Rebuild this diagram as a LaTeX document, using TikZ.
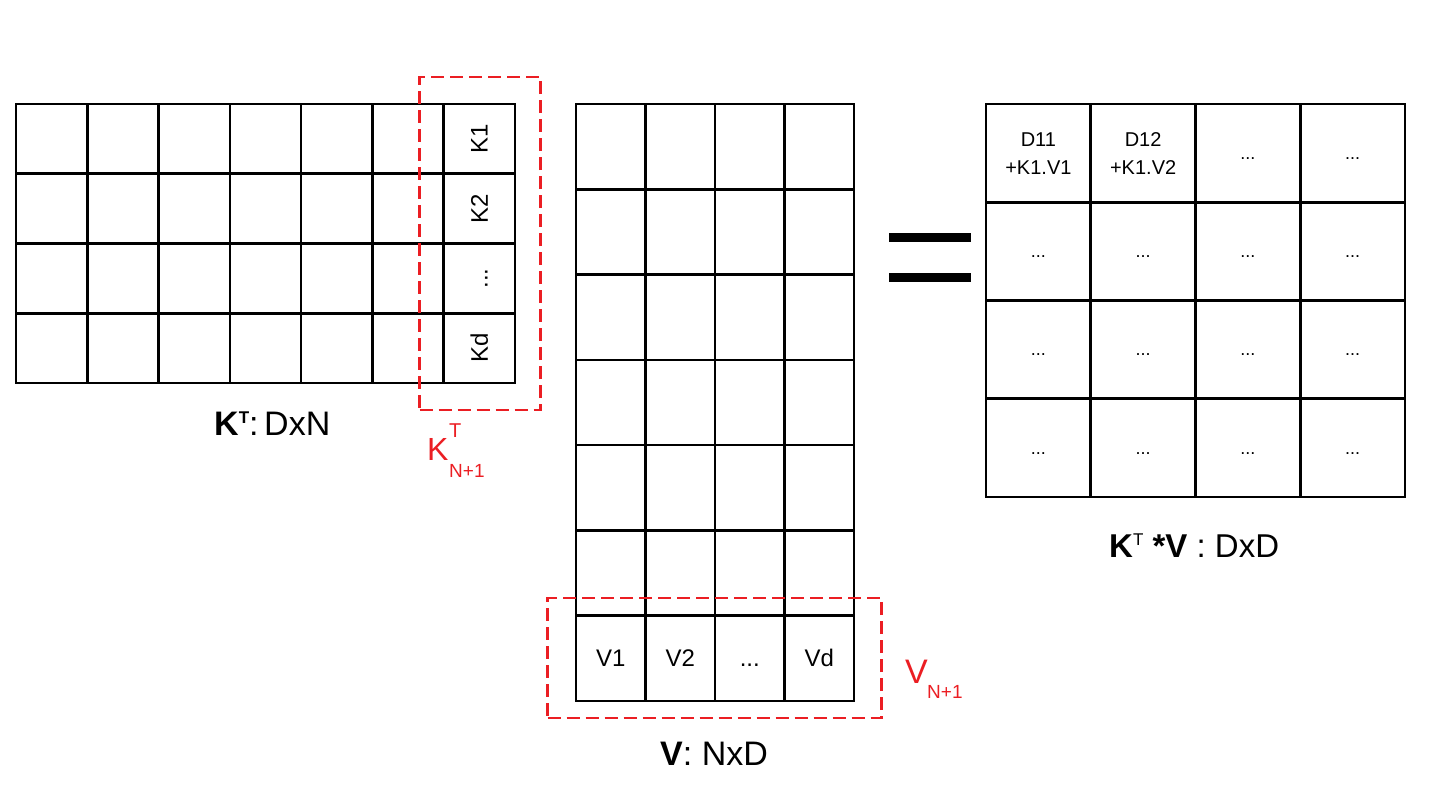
\documentclass[tikz,border=0pt]{standalone}
\usepackage{fontspec}
\setmainfont{Liberation Sans}
\definecolor{redline}{RGB}{235,30,35}
\newcommand{\fs}[1]{\fontsize{#1}{#1}\selectfont}
\begin{document}
\begin{tikzpicture}[x=1pt,y=-1pt,
  cell/.style={draw=black, line width=2.6pt, inner sep=0pt, outer sep=0pt},
  redbox/.style={draw=redline, line width=2.4pt, dash pattern=on 13pt off 6pt, inner sep=0pt},
  lbl/.style={inner sep=0pt, anchor=base west},
  redlbl/.style={inner sep=0pt, anchor=base west, text=redline}]
\useasboundingbox (0,0) rectangle (1456,798);
% ---------- K^T matrix (4 rows x 7 cols) ----------
\foreach \r in {0,...,3}{
  \foreach \c in {0,...,6}{
    \node[cell, minimum width=71.29pt, minimum height=69.75pt]
      (k-\r-\c) at ({16+71.29*(\c+0.5)},{104+69.75*(\r+0.5)}) {};
  }
}
\node[rotate=90, font=\fs{24}] (k1) at (k-0-6) {K1};
\node[rotate=90, font=\fs{24}] (k2) at (k-1-6) {K2};
\node[rotate=90, font=\fs{24}] (kdots) at (k-2-6) {\vphantom{K}...};
\node[rotate=90, font=\fs{24}] (kd) at (k-3-6) {Kd};
\node[redbox, minimum width=121pt, minimum height=333pt] (kbox) at (480,243.5) {};
% ---------- V matrix (7 rows x 4 cols) ----------
\foreach \r in {0,...,6}{
  \foreach \c in {0,...,3}{
    \node[cell, minimum width=69.5pt, minimum height=85.29pt]
      (v-\r-\c) at ({576+69.5*(\c+0.5)},{104+85.29*(\r+0.5)}) {};
  }
}
\node[font=\fs{24}] (v1) at (v-6-0) {V1};
\node[font=\fs{24}] (v2) at (v-6-1) {V2};
\node[font=\fs{24}] (vdots) at (v-6-2) {\vphantom{V}...};
\node[font=\fs{24}] (vd) at (v-6-3) {Vd};
\node[redbox, minimum width=334pt, minimum height=120pt] (vbox) at (714.5,658) {};
% ---------- equals ----------
\node[fill=black, minimum width=82pt, minimum height=9pt, inner sep=0pt] (eqa) at (930,237.5) {};
\node[fill=black, minimum width=82pt, minimum height=9pt, inner sep=0pt] (eqb) at (930,277.5) {};
% ---------- result matrix (4 x 4) ----------
\foreach \r in {0,...,3}{
  \foreach \c in {0,...,3}{
    \node[cell, minimum width=104.75pt, minimum height=98.25pt]
      (d-\r-\c) at ({986+104.75*(\c+0.5)},{104+98.25*(\r+0.5)}) {};
  }
}
\node[font=\fs{20}, align=center] (d11) at (d-0-0) {D11\\[8pt]+K1.V1};
\node[font=\fs{20}, align=center] (d12) at (d-0-1) {D12\\[8pt]+K1.V2};
\foreach \r/\c in {0/2,0/3,1/0,1/1,1/2,1/3,2/0,2/1,2/2,2/3,3/0,3/1,3/2,3/3}{
  \node[font=\fs{18}] (dd-\r-\c) at (d-\r-\c) {\vphantom{D}...};
}
% ---------- labels ----------
\node[lbl, font=\fs{34}] (ktlabel) at (214,435)
  {\textbf{K}\raisebox{12pt}{\fs{17}\textbf{T}}:\,DxN};
\node[lbl, font=\fs{34}] (vlabel) at (660,765) {\textbf{V}: NxD};
\node[lbl, font=\fs{33}] (reslabel) at (1109,557)
  {\textbf{K}\raisebox{12pt}{\fs{17}T} \textbf{*V} : DxD};
% red labels
\node[redlbl, font=\fs{32}] (kn) at (427,460) {K};
\node[redlbl, font=\fs{20}] (knT) at (449,437) {T};
\node[redlbl, font=\fs{19}] (knS) at (449,477) {N+1};
\node[redlbl, font=\fs{34}] (vn) at (905,683) {V};
\node[redlbl, font=\fs{19}] (vnS) at (927,698) {N+1};
\end{tikzpicture}
\end{document}
